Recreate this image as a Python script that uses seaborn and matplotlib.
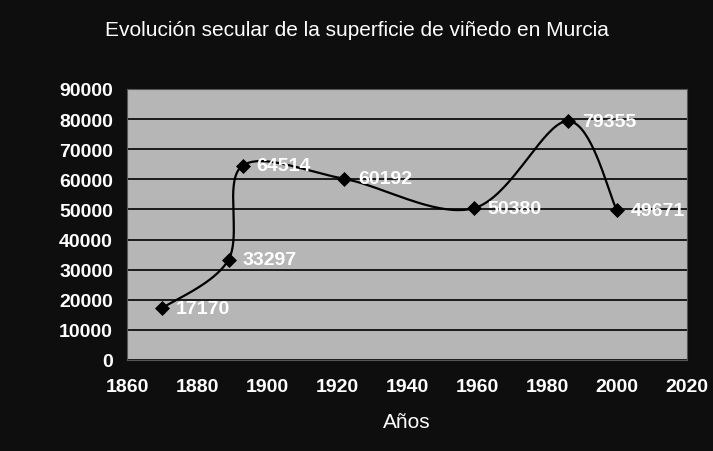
import numpy as np
import pandas as pd
import matplotlib
matplotlib.use("Agg")
import matplotlib.pyplot as plt
import seaborn as sns

# datos
anios = [1870, 1889, 1893, 1922, 1959, 1986, 2000]
superficie = [17170, 33297, 64514, 60192, 50380, 79355, 49671]


def suavizar(x, y, n=40):
    """Curva suavizada tipo Catmull-Rom (como la linea suavizada de Excel)"""
    x = np.asarray(x, float)
    y = np.asarray(y, float)
    px = np.concatenate([[x[0]], x, [x[-1]]])
    py = np.concatenate([[y[0]], y, [y[-1]]])
    xs, ys = [], []
    for i in range(1, len(px) - 2):
        p0 = np.array([px[i - 1], py[i - 1]])
        p1 = np.array([px[i], py[i]])
        p2 = np.array([px[i + 1], py[i + 1]])
        p3 = np.array([px[i + 2], py[i + 2]])
        c1 = p1 + (p2 - p0) / 6
        c2 = p2 - (p3 - p1) / 6
        t = np.linspace(0, 1, n)[:, None]
        b = ((1 - t) ** 3 * p1 + 3 * (1 - t) ** 2 * t * c1
             + 3 * (1 - t) * t ** 2 * c2 + t ** 3 * p2)
        xs.extend(b[:, 0])
        ys.extend(b[:, 1])
    return np.array(xs), np.array(ys)


sns.set_style("white")
plt.rcParams["font.family"] = ["Liberation Sans", "DejaVu Sans"]

fig = plt.figure(figsize=(7.13, 4.52), dpi=100, facecolor="#0e0e0e")
ax = fig.add_axes([127 / 713, 1 - 361 / 452, 560 / 713, 271 / 452])
ax.set_facecolor("#b6b6b6")

cx, cy = suavizar(anios, superficie)
curva = pd.DataFrame({"x": cx, "y": cy})
sns.lineplot(data=curva, x="x", y="y", sort=False, color="black",
             linewidth=1.6, ax=ax)
sns.scatterplot(x=anios, y=superficie, marker="D", color="black", s=50,
                edgecolor="black", zorder=5, ax=ax)

for a, s in zip(anios, superficie):
    ax.annotate(str(s), (a, s), xytext=(10, 0), textcoords="offset points",
                va="center", ha="left", color="white", fontsize=14,
                fontweight="bold")

ax.set_xlim(1860, 2020)
ax.set_ylim(0, 90000)
ax.set_xticks(range(1860, 2021, 20))
ax.set_yticks(range(0, 90001, 10000))
ax.grid(axis="y", color="black", linewidth=1.2)
ax.grid(axis="x", visible=False)
for sp in ax.spines.values():
    sp.set_color("#555555")
    sp.set_linewidth(0.8)
ax.tick_params(colors="white", labelsize=14, length=0)
ax.tick_params(axis="y", pad=10)
ax.tick_params(axis="x", pad=13)
for lab in ax.get_xticklabels() + ax.get_yticklabels():
    lab.set_fontweight("bold")
ax.set_xlabel("Años", color="white", fontsize=15, labelpad=12)
ax.set_ylabel("")
fig.suptitle("Evolución secular de la superficie de viñedo en Murcia",
             color="white", fontsize=15, y=1 - 30 / 452, va="center")

plt.savefig("out.png", dpi=100, facecolor=fig.get_facecolor())
